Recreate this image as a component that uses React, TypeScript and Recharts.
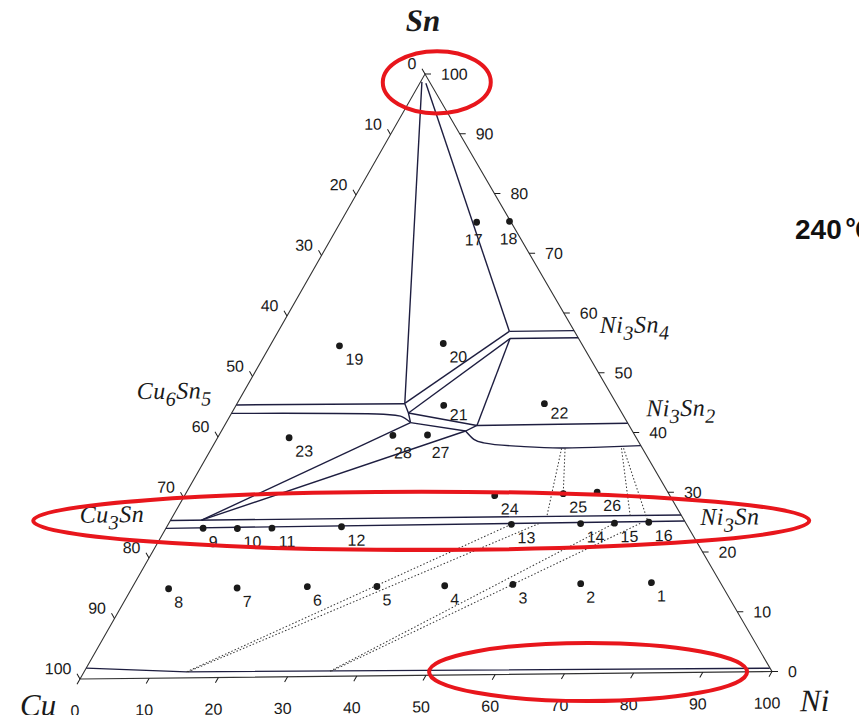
import React from 'react';
import { ComposedChart, XAxis, YAxis, Line, Scatter } from 'recharts';

// Compositions are [Ni, Sn] in at.%; Cu is the balance.
type Pt = [number, number];

// ---- alloys (numbered dots) ----
const sampleIds = ['1', '2', '3', '4', '5', '6', '7', '8', '9', '10', '11', '12', '13', '14',
  '15', '16', '17', '18', '19', '20', '21', '22', '23', '24', '25', '26', '27', '28'];
const sampleNi = [75.1, 64.9, 55.1, 45.3, 35.5, 25.4, 15.3, 5.4, 5.4, 10.4, 15.4, 25.4, 49.9, 59.9,
  64.8, 69.7, 19.8, 24.5, 10.1, 25.0, 30.2, 44.7, 10.4, 45.1, 54.9, 59.7, 30.3, 25.3];
const sampleSn = [15.0, 14.95, 14.95, 14.85, 14.85, 14.95, 14.85, 14.85, 24.85, 24.75, 24.75, 24.85, 24.95, 24.95,
  24.95, 25.05, 75.25, 75.35, 54.95, 55.15, 44.85, 44.95, 39.75, 29.75, 29.95, 30.15, 39.95, 39.95];

// ---- axis ticks ----
const tickValues = [0, 10, 20, 30, 40, 50, 60, 70, 80, 90, 100];
const tickLabels = ['0', '10', '20', '30', '40', '50', '60', '70', '80', '90', '100'];

// ---- compounds on the binary edges ----
const phaseNames = ['Cu6Sn5', 'Cu3Sn', 'Ni3Sn4', 'Ni3Sn2', 'Ni3Sn'];
const phaseNi = [0, 0, 42.9, 60, 75];
const phaseSn = [45.45, 25, 57.1, 40, 25];

const cornerNames = ['Cu', 'Ni', 'Sn'];
const cornerNi = [0, 100, 0];
const cornerSn = [0, 0, 100];

// ---- phase boundaries (240 °C section) ----
const triangle: Pt[] = [[0, 0], [100, 0], [0, 100], [0, 0]];
const cuNiEdge: Pt[] = [[0, 1.8], [14.9, 1.0], [99.4, 0.55]];
const cu3SnUpper: Pt[] = [[0, 26.2], [73.8, 26.2]];
const cu3SnLower: Pt[] = [[0, 24.9], [74.8, 25.2]];
const cu6Sn5Upper: Pt[] = [[0, 45.3], [24.4, 45.2]];
const snCornerLeft: Pt[] = [[0.2, 98.7], [24.4, 45.2], [25.7, 43.65], [26.8, 42.05]];
const snCornerRight: Pt[] = [[0.9, 98.45], [33.6, 57.05]];
const ni3Sn4Upper: Pt[] = [[33.6, 57.05], [42.95, 57.05]];
const ni3Sn4Lower: Pt[] = [[34.3, 55.85], [44.15, 55.85]];
const ni3Sn4ToCu6Sn5Upper: Pt[] = [[33.6, 57.05], [24.4, 45.3]];
const ni3Sn4ToCu6Sn5Lower: Pt[] = [[34.3, 55.85], [25.7, 43.65]];
const ni3Sn4ToNi3Sn2: Pt[] = [[34.3, 55.85], [36.7, 41.45]];
const ni3Sn2Upper: Pt[] = [[36.7, 41.45], [58.45, 41.55]];
const cu6Sn5ToNi3Sn2: Pt[] = [[25.7, 43.65], [36.7, 41.45]];
const cu6Sn5ToLensTip: Pt[] = [[26.8, 42.05], [35.5, 40.55], [36.7, 41.45]];
const cu3SnToCu6Sn5: Pt[] = [[4.5, 26.2], [26.8, 42.05]];
const cu3SnToLensTip: Pt[] = [[4.5, 26.2], [35.5, 40.55]];

// curved boundaries
const cu6Sn5Lower: Pt[] = [[0, 43.9], [21.2, 43.55], [24.8, 43.15], [26.8, 42.05]];
const ni3Sn2Lower: Pt[] = [[35.5, 40.55], [37.4, 39.15], [39.1, 38.55], [45.3, 37.85], [51.2, 37.55], [57.4, 37.65], [62.2, 37.8]];

// dotted tie lines
const tie1: Pt[] = [[50.9, 37.5], [54.4, 26.2]];
const tie2: Pt[] = [[51.4, 37.5], [54.9, 29.95]];
const tie3: Pt[] = [[59.6, 37.4], [66.5, 26.1]];
const tie4: Pt[] = [[59.9, 37.4], [69.5, 25.2]];
const tie5: Pt[] = [[14.9, 1.0], [49.9, 24.95]];
const tie6: Pt[] = [[15.1, 1.0], [53.8, 25.0]];
const tie7: Pt[] = [[35.7, 0.85], [64.8, 24.95]];
const tie8: Pt[] = [[35.9, 0.85], [68.6, 24.9]];

// highlighted regions (red rings)
const highlightNames = ['snCorner', 'compoundLine', 'cuNiEdge'];
const highlightNi = [2.4, 36.5, 73.3];
const highlightSn = [98.6, 25.7, 0.25];

const solidLines = [cuNiEdge, cu3SnUpper, cu3SnLower, cu6Sn5Upper, snCornerLeft, snCornerRight,
  ni3Sn4Upper, ni3Sn4Lower, ni3Sn4ToCu6Sn5Upper, ni3Sn4ToCu6Sn5Lower, ni3Sn4ToNi3Sn2, ni3Sn2Upper,
  cu6Sn5ToNi3Sn2, cu6Sn5ToLensTip, cu3SnToCu6Sn5, cu3SnToLensTip];
const curvedLines = [cu6Sn5Lower, ni3Sn2Lower];
const dottedLines = [tie1, tie2, tie3, tie4, tie5, tie6, tie7, tie8];

// ---- layout ----
const W = 859;
const H = 715;
const SIDE = 692;
const CU_X = 72;
const CU_Y = 667;
const UX = SIDE / 100;
const UY = (SIDE * Math.sqrt(3)) / 2 / 100;
const xDomain = [-CU_X / UX, (W - CU_X) / UX];
const yDomain = [-(H - CU_Y) / UY, CU_Y / UY];
// the scanned figure is slightly tilted/sheared
const SCAN = 'matrix(1, -0.010838, 0.0016686, 1.00327, -1.113, 2.6)';

const INK = '#1a1a1a';
const PHASE = '#1e1e40';
const RED = '#e8161c';
const SANS = '"Liberation Sans", Arial, Helvetica, sans-serif';
const SERIF = '"Liberation Serif", "Times New Roman", serif';

const toXY = ([ni, sn]: Pt) => ({ x: ni + sn / 2, y: sn });

const samples = sampleIds.map((id, i) => ({ ...toXY([sampleNi[i], sampleSn[i]]), id }));
const ticks = [
  ...tickValues.map((v, i) => ({ ...toXY([0, 100 - v]), side: 'left', label: tickLabels[i] })),
  ...tickValues.map((v, i) => ({ ...toXY([100 - v, v]), side: 'right', label: tickLabels[i] })),
  ...tickValues.map((v, i) => ({ ...toXY([v, 0]), side: 'bottom', label: tickLabels[i] })),
];
const phases = phaseNames.map((name, i) => ({ ...toXY([phaseNi[i], phaseSn[i]]), name }));
const corners = cornerNames.map((name, i) => ({ ...toXY([cornerNi[i], cornerSn[i]]), name }));
const highlights = highlightNames.map((name, i) => ({ ...toXY([highlightNi[i], highlightSn[i]]), name }));

const labelOffset: Record<string, [number, number]> = {
  '17': [-3, 17], '18': [-1, 17], '21': [15, 9], '22': [15, 9], '27': [13, 17], '28': [10, 17],
};

const tickStyle: Record<string, { mx: number; my: number; lx: number; ly: number; anchor: string }> = {
  left: { mx: -3, my: -5.2, lx: -8.5, ly: -11, anchor: 'end' },
  right: { mx: 6, my: 0, lx: 16, ly: 0, anchor: 'start' },
  bottom: { mx: -3, my: 5.2, lx: -5, ly: 31, anchor: 'middle' },
};

const phaseStyle: Record<string, { dx: number; dy: number; anchor: string }> = {
  Cu6Sn5: { dx: -25, dy: -6, anchor: 'end' },
  Cu3Sn: { dx: -22, dy: -6, anchor: 'end' },
  Ni3Sn4: { dx: 26, dy: 3, anchor: 'start' },
  Ni3Sn2: { dx: 13, dy: -16, anchor: 'start' },
  Ni3Sn: { dx: 15, dy: 3, anchor: 'start' },
};

const cornerStyle: Record<string, { dx: number; dy: number; anchor: string; weight: number }> = {
  Cu: { dx: -60, dy: 36, anchor: 'start', weight: 400 },
  Ni: { dx: 28, dy: 40, anchor: 'start', weight: 400 },
  Sn: { dx: -2, dy: -43, anchor: 'middle', weight: 700 },
};

const ringSize: Record<string, [number, number]> = {
  snCorner: [54, 31],
  compoundLine: [388, 29],
  cuNiEdge: [159, 29],
};

const SampleDot = (props: any) => {
  const { cx, cy, payload } = props;
  const [dx, dy] = labelOffset[payload.id] ?? (payload.id.length > 1 ? [15, 13] : [10, 13]);
  return (
    <g>
      <circle cx={cx} cy={cy} r={3.4} fill={INK} />
      <text x={cx + dx} y={cy + dy} textAnchor="middle" dominantBaseline="central"
        fontSize={16} fontFamily={SANS} fill={INK}>{payload.id}</text>
    </g>
  );
};

const AxisTick = (props: any) => {
  const { cx, cy, payload } = props;
  const s = tickStyle[payload.side];
  return (
    <g>
      <line x1={cx} y1={cy} x2={cx + s.mx} y2={cy + s.my} stroke={INK} strokeWidth={1} />
      <text x={cx + s.lx} y={cy + s.ly} textAnchor={s.anchor} dominantBaseline="central"
        fontSize={16} fontFamily={SANS} fill={INK}>{payload.label}</text>
    </g>
  );
};

// "Ni3Sn4" -> Ni, 3 (sub), Sn, 4 (sub)
const PhaseLabel = (props: any) => {
  const { cx, cy, payload } = props;
  const s = phaseStyle[payload.name];
  const parts = payload.name.match(/[A-Z][a-z]*|\d+/g) as string[];
  let low = false;
  return (
    <text x={cx + s.dx} y={cy + s.dy} textAnchor={s.anchor} fontFamily={SERIF} fontStyle="italic"
      fontSize={24} fill={INK} letterSpacing={0.5}>
      {parts.map((p, i) => {
        const isNum = /\d/.test(p);
        const shift = isNum && !low ? 7 : !isNum && low ? -7 : 0;
        low = isNum;
        return (
          <tspan key={i} dy={shift} fontSize={isNum ? 20 : 24}>{p}</tspan>
        );
      })}
    </text>
  );
};

const CornerLabel = (props: any) => {
  const { cx, cy, payload } = props;
  const s = cornerStyle[payload.name];
  return (
    <text x={cx + s.dx} y={cy + s.dy} textAnchor={s.anchor} fontFamily={SERIF} fontStyle="italic"
      fontWeight={s.weight} fontSize={31} fill={INK}>{payload.name}</text>
  );
};

const Ring = (props: any) => {
  const { cx, cy, payload } = props;
  const [rx, ry] = ringSize[payload.name];
  return (
    <ellipse cx={cx} cy={cy} rx={rx} ry={ry} fill="none" stroke={RED} strokeWidth={4}
      transform={`rotate(0.62 ${cx} ${cy})`} />
  );
};

export default function App() {
  return (
    <div style={{ position: 'relative', width: W, height: H, overflow: 'hidden', marginBottom: -8 }}>
      <div style={{ transform: SCAN, transformOrigin: '0 0' }}>
        <ComposedChart width={W} height={H} margin={{ top: 0, right: 0, bottom: 0, left: 0 }}>
          <XAxis type="number" dataKey="x" domain={xDomain} allowDataOverflow hide />
          <YAxis type="number" dataKey="y" domain={yDomain} allowDataOverflow hide />

          <Line data={triangle.map(toXY)} dataKey="y" type="linear" stroke="#333" strokeWidth={1.1}
            dot={false} activeDot={false} isAnimationActive={false} />
          {solidLines.map((pts, i) => (
            <Line key={`s${i}`} data={pts.map(toXY)} dataKey="y" type="linear" stroke={PHASE}
              strokeWidth={1.4} dot={false} activeDot={false} isAnimationActive={false} />
          ))}
          {curvedLines.map((pts, i) => (
            <Line key={`c${i}`} data={pts.map(toXY)} dataKey="y" type="monotone" stroke={PHASE}
              strokeWidth={1.4} dot={false} activeDot={false} isAnimationActive={false} />
          ))}
          {dottedLines.map((pts, i) => (
            <Line key={`d${i}`} data={pts.map(toXY)} dataKey="y" type="linear" stroke="#333"
              strokeWidth={1} strokeDasharray="1.5 2" dot={false} activeDot={false}
              isAnimationActive={false} />
          ))}

          <Scatter data={ticks} shape={AxisTick} isAnimationActive={false} />
          <Scatter data={samples} shape={SampleDot} isAnimationActive={false} />
          <Scatter data={phases} shape={PhaseLabel} isAnimationActive={false} />
          <Scatter data={corners} shape={CornerLabel} isAnimationActive={false} />
          <Scatter data={highlights} shape={Ring} isAnimationActive={false} />
        </ComposedChart>
      </div>
      <svg width={W} height={H} style={{ position: 'absolute', left: 0, top: 0, pointerEvents: 'none' }}>
        <text x={787} y={231} fontFamily={SANS} fontWeight={700} fontSize={28} fill="#111">
          240<tspan dx={4} fontSize={26} fontFamily='"Noto Sans CJK SC", "DejaVu Sans", sans-serif'>℃</tspan>
        </text>
      </svg>
    </div>
  );
}
